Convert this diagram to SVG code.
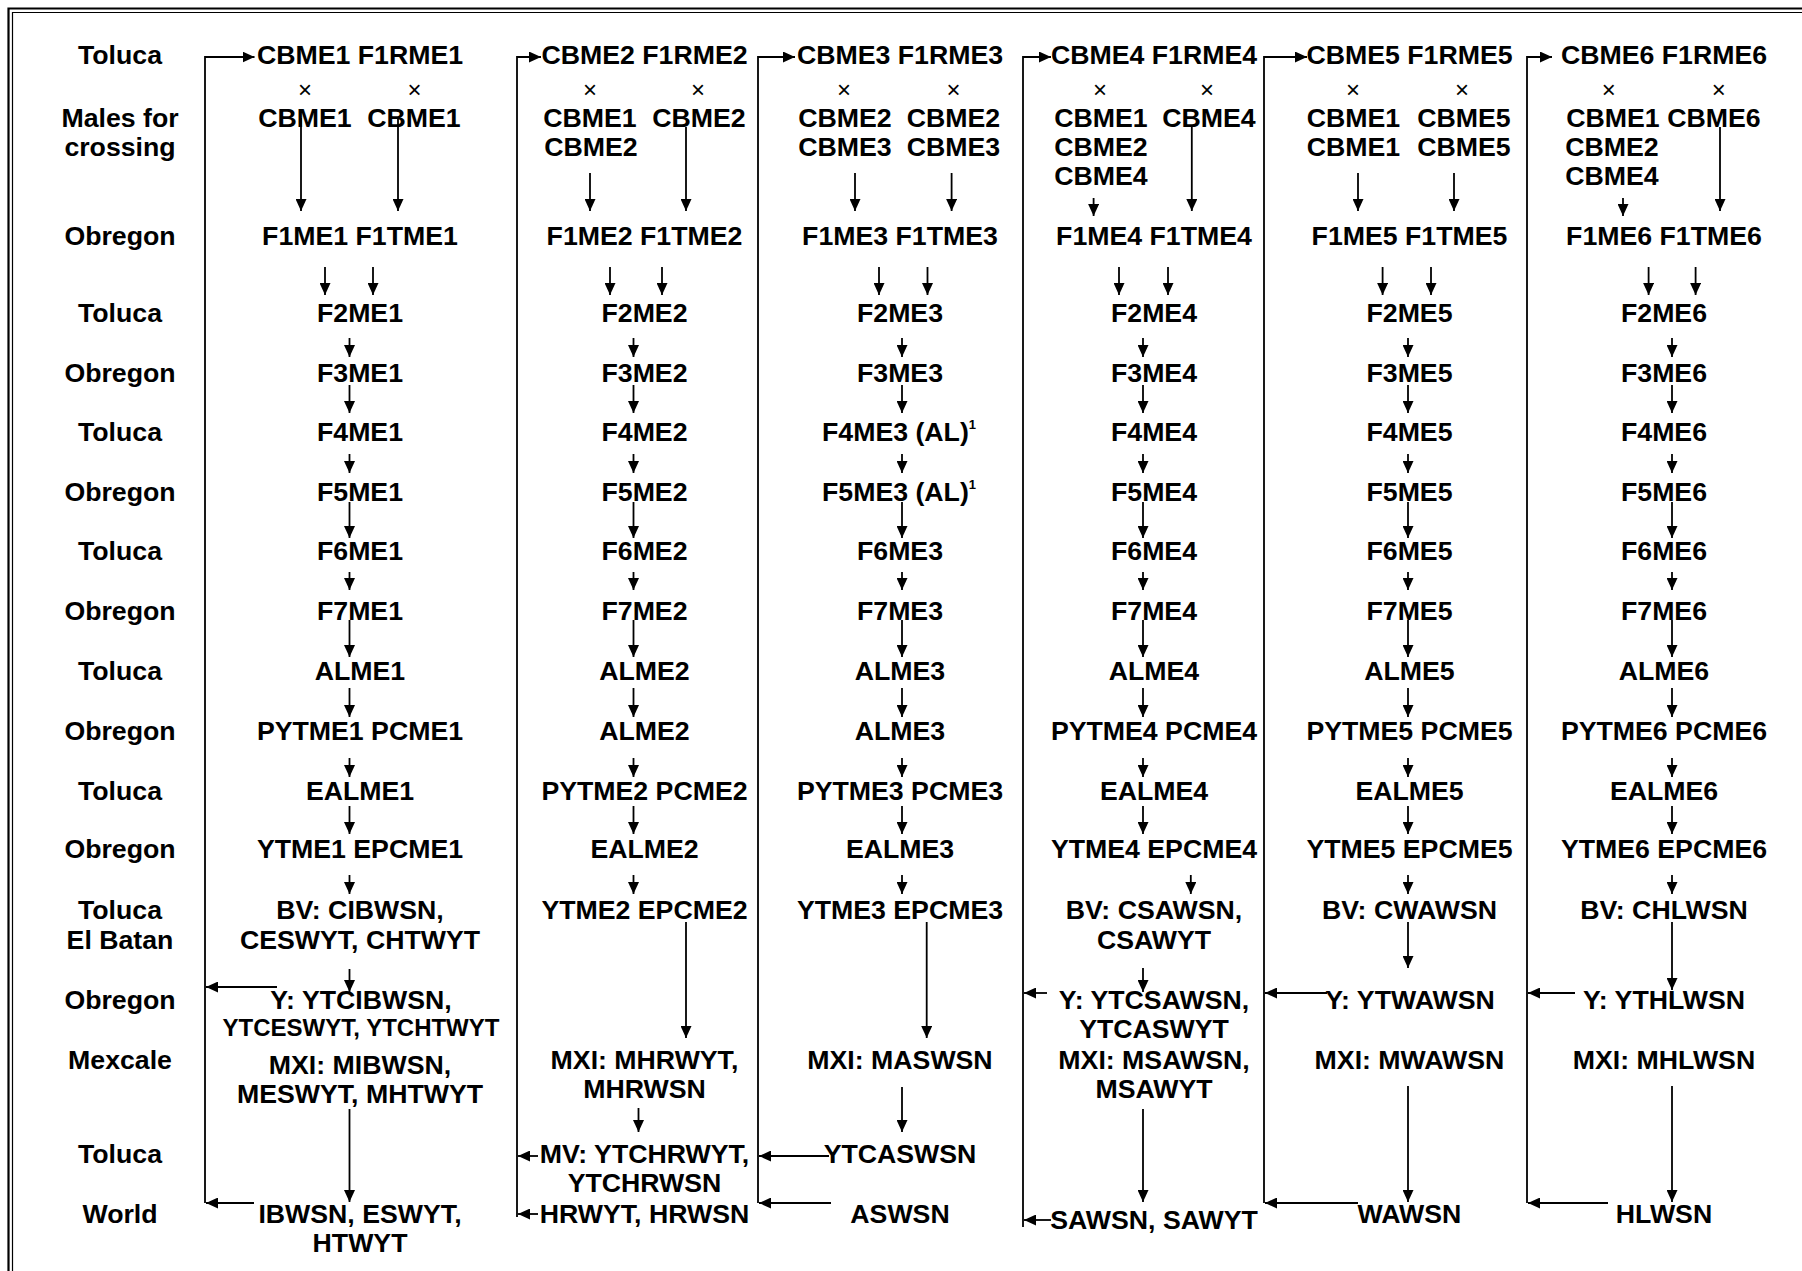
<svg xmlns="http://www.w3.org/2000/svg" width="1802" height="1271" viewBox="0 0 1802 1271">
<style>
text { font-family: "Liberation Sans", Arial, sans-serif; font-weight: bold; font-size: 26.7px; text-anchor: middle; fill: #000; }
text.sm { font-size: 24px; }
text.x { font-weight: normal; font-size: 24px; }
text.st { text-anchor: start; }
tspan.sup { font-size: 13px; }
.a { stroke: #000; stroke-width: 1.8; fill: none; marker-end: url(#ah); }
.frame { stroke: #000; fill: none; }
</style>
<defs>
<marker id="ah" markerUnits="userSpaceOnUse" markerWidth="12" markerHeight="11" refX="12" refY="5.5" orient="auto">
<path d="M0,0 L12,5.5 L0,11 z" fill="#000"/>
</marker>
</defs>
<rect width="1802" height="1271" fill="#fff"/>
<!-- double frame (top and left edges) -->
<path class="frame" stroke-width="2.2" d="M8.5,1275 V8.5 H1806"/>
<path class="frame" stroke-width="1.2" d="M12.5,1275 V12.5 H1806"/>

<!-- row labels -->
<g id="labels">
<text x="120" y="64">Toluca</text>
<text x="120" y="127">Males for</text>
<text x="120" y="156">crossing</text>
<text x="120" y="245">Obregon</text>
<text x="120" y="322">Toluca</text>
<text x="120" y="382">Obregon</text>
<text x="120" y="441">Toluca</text>
<text x="120" y="501">Obregon</text>
<text x="120" y="560">Toluca</text>
<text x="120" y="620">Obregon</text>
<text x="120" y="680">Toluca</text>
<text x="120" y="740">Obregon</text>
<text x="120" y="800">Toluca</text>
<text x="120" y="858">Obregon</text>
<text x="120" y="919">Toluca</text>
<text x="120" y="949">El Batan</text>
<text x="120" y="1009">Obregon</text>
<text x="120" y="1069">Mexcale</text>
<text x="120" y="1163">Toluca</text>
<text x="120" y="1223">World</text>
</g>

<!-- column 1 -->
<g id="c1-parents"><text x="360" y="64">CBME1 F1RME1</text></g>
<g id="c1-males"><text class="x" x="305" y="98">×</text><text class="x" x="414.5" y="98">×</text><text x="305" y="127">CBME1</text><text x="414" y="127">CBME1</text></g>
<g id="c1-f1"><text x="360" y="245">F1ME1 F1TME1</text></g>
<g id="c1-f2"><text x="360" y="322">F2ME1</text></g>
<g id="c1-f3"><text x="360" y="382">F3ME1</text></g>
<g id="c1-f4"><text x="360" y="441">F4ME1</text></g>
<g id="c1-f5"><text x="360" y="501">F5ME1</text></g>
<g id="c1-f6"><text x="360" y="560">F6ME1</text></g>
<g id="c1-f7"><text x="360" y="620">F7ME1</text></g>
<g id="c1-al"><text x="360" y="680">ALME1</text></g>
<g id="c1-py"><text x="360" y="740">PYTME1 PCME1</text></g>
<g id="c1-eal"><text x="360" y="800">EALME1</text></g>
<g id="c1-yt"><text x="360" y="858">YTME1 EPCME1</text></g>
<g id="c1-bv"><text x="360" y="919">BV: CIBWSN,</text><text x="360" y="949">CESWYT, CHTWYT</text></g>
<g id="c1-y"><text x="361" y="1009">Y: YTCIBWSN,</text><text class="sm" x="361" y="1036">YTCESWYT, YTCHTWYT</text></g>
<g id="c1-mxi"><text x="360" y="1074">MXI: MIBWSN,</text><text x="360" y="1103">MESWYT, MHTWYT</text></g>
<g id="c1-world"><text x="360" y="1223">IBWSN, ESWYT,</text><text x="360" y="1252">HTWYT</text></g>

<!-- column 2 -->
<g id="c2-parents"><text x="644.5" y="64">CBME2 F1RME2</text></g>
<g id="c2-males"><text class="x" x="590" y="98">×</text><text class="x" x="698" y="98">×</text><text x="590" y="127">CBME1</text><text x="699" y="127">CBME2</text><text x="591" y="156">CBME2</text></g>
<g id="c2-f1"><text x="644.5" y="245">F1ME2 F1TME2</text></g>
<g id="c2-f2"><text x="644.5" y="322">F2ME2</text></g>
<g id="c2-f3"><text x="644.5" y="382">F3ME2</text></g>
<g id="c2-f4"><text x="644.5" y="441">F4ME2</text></g>
<g id="c2-f5"><text x="644.5" y="501">F5ME2</text></g>
<g id="c2-f6"><text x="644.5" y="560">F6ME2</text></g>
<g id="c2-f7"><text x="644.5" y="620">F7ME2</text></g>
<g id="c2-al"><text x="644.5" y="680">ALME2</text></g>
<g id="c2-al2"><text x="644.5" y="740">ALME2</text></g>
<g id="c2-py"><text x="644.5" y="800">PYTME2 PCME2</text></g>
<g id="c2-eal"><text x="644.5" y="858">EALME2</text></g>
<g id="c2-yt"><text x="644.5" y="919">YTME2 EPCME2</text></g>
<g id="c2-mxi"><text x="644.5" y="1069">MXI: MHRWYT,</text><text x="644.5" y="1098">MHRWSN</text></g>
<g id="c2-mv"><text x="644.5" y="1163">MV: YTCHRWYT,</text><text x="644.5" y="1192">YTCHRWSN</text></g>
<g id="c2-world"><text x="644.5" y="1223">HRWYT, HRWSN</text></g>

<!-- column 3 -->
<g id="c3-parents"><text x="900" y="64">CBME3 F1RME3</text></g>
<g id="c3-males"><text class="x" x="844" y="98">×</text><text class="x" x="953.5" y="98">×</text><text x="845" y="127">CBME2</text><text x="953.5" y="127">CBME2</text><text x="845" y="156">CBME3</text><text x="953.5" y="156">CBME3</text></g>
<g id="c3-f1"><text x="900" y="245">F1ME3 F1TME3</text></g>
<g id="c3-f2"><text x="900" y="322">F2ME3</text></g>
<g id="c3-f3"><text x="900" y="382">F3ME3</text></g>
<g id="c3-f4"><text class="st" x="822" y="441">F4ME3 (AL)<tspan class="sup" dy="-12">1</tspan></text></g>
<g id="c3-f5"><text class="st" x="822" y="501">F5ME3 (AL)<tspan class="sup" dy="-12">1</tspan></text></g>
<g id="c3-f6"><text x="900" y="560">F6ME3</text></g>
<g id="c3-f7"><text x="900" y="620">F7ME3</text></g>
<g id="c3-al"><text x="900" y="680">ALME3</text></g>
<g id="c3-al2"><text x="900" y="740">ALME3</text></g>
<g id="c3-py"><text x="900" y="800">PYTME3 PCME3</text></g>
<g id="c3-eal"><text x="900" y="858">EALME3</text></g>
<g id="c3-yt"><text x="900" y="919">YTME3 EPCME3</text></g>
<g id="c3-mxi"><text x="900" y="1069">MXI: MASWSN</text></g>
<g id="c3-ytc"><text x="900" y="1163">YTCASWSN</text></g>
<g id="c3-world"><text x="900" y="1223">ASWSN</text></g>

<!-- column 4 -->
<g id="c4-parents"><text x="1154" y="64">CBME4 F1RME4</text></g>
<g id="c4-males"><text class="x" x="1100" y="98">×</text><text class="x" x="1207" y="98">×</text><text x="1101" y="127">CBME1</text><text x="1209" y="127">CBME4</text><text x="1101" y="156">CBME2</text><text x="1101" y="185">CBME4</text></g>
<g id="c4-f1"><text x="1154" y="245">F1ME4 F1TME4</text></g>
<g id="c4-f2"><text x="1154" y="322">F2ME4</text></g>
<g id="c4-f3"><text x="1154" y="382">F3ME4</text></g>
<g id="c4-f4"><text x="1154" y="441">F4ME4</text></g>
<g id="c4-f5"><text x="1154" y="501">F5ME4</text></g>
<g id="c4-f6"><text x="1154" y="560">F6ME4</text></g>
<g id="c4-f7"><text x="1154" y="620">F7ME4</text></g>
<g id="c4-al"><text x="1154" y="680">ALME4</text></g>
<g id="c4-py"><text x="1154" y="740">PYTME4 PCME4</text></g>
<g id="c4-eal"><text x="1154" y="800">EALME4</text></g>
<g id="c4-yt"><text x="1154" y="858">YTME4 EPCME4</text></g>
<g id="c4-bv"><text x="1154" y="919">BV: CSAWSN,</text><text x="1154" y="949">CSAWYT</text></g>
<g id="c4-y"><text x="1154" y="1009">Y: YTCSAWSN,</text><text x="1154" y="1038">YTCASWYT</text></g>
<g id="c4-mxi"><text x="1154" y="1069">MXI: MSAWSN,</text><text x="1154" y="1098">MSAWYT</text></g>
<g id="c4-world"><text x="1154" y="1229">SAWSN, SAWYT</text></g>

<!-- column 5 -->
<g id="c5-parents"><text x="1409.5" y="64">CBME5 F1RME5</text></g>
<g id="c5-males"><text class="x" x="1353" y="98">×</text><text class="x" x="1462" y="98">×</text><text x="1353.5" y="127">CBME1</text><text x="1464" y="127">CBME5</text><text x="1353.5" y="156">CBME1</text><text x="1464" y="156">CBME5</text></g>
<g id="c5-f1"><text x="1409.5" y="245">F1ME5 F1TME5</text></g>
<g id="c5-f2"><text x="1409.5" y="322">F2ME5</text></g>
<g id="c5-f3"><text x="1409.5" y="382">F3ME5</text></g>
<g id="c5-f4"><text x="1409.5" y="441">F4ME5</text></g>
<g id="c5-f5"><text x="1409.5" y="501">F5ME5</text></g>
<g id="c5-f6"><text x="1409.5" y="560">F6ME5</text></g>
<g id="c5-f7"><text x="1409.5" y="620">F7ME5</text></g>
<g id="c5-al"><text x="1409.5" y="680">ALME5</text></g>
<g id="c5-py"><text x="1409.5" y="740">PYTME5 PCME5</text></g>
<g id="c5-eal"><text x="1409.5" y="800">EALME5</text></g>
<g id="c5-yt"><text x="1409.5" y="858">YTME5 EPCME5</text></g>
<g id="c5-bv"><text x="1409.5" y="919">BV: CWAWSN</text></g>
<g id="c5-y"><text x="1410" y="1009">Y: YTWAWSN</text></g>
<g id="c5-mxi"><text x="1409.5" y="1069">MXI: MWAWSN</text></g>
<g id="c5-world"><text x="1409.5" y="1223">WAWSN</text></g>

<!-- column 6 -->
<g id="c6-parents"><text x="1664" y="64">CBME6 F1RME6</text></g>
<g id="c6-males"><text class="x" x="1608.7" y="98">×</text><text class="x" x="1718.7" y="98">×</text><text x="1613" y="127">CBME1</text><text x="1714" y="127">CBME6</text><text x="1612" y="156">CBME2</text><text x="1612" y="185">CBME4</text></g>
<g id="c6-f1"><text x="1664" y="245">F1ME6 F1TME6</text></g>
<g id="c6-f2"><text x="1664" y="322">F2ME6</text></g>
<g id="c6-f3"><text x="1664" y="382">F3ME6</text></g>
<g id="c6-f4"><text x="1664" y="441">F4ME6</text></g>
<g id="c6-f5"><text x="1664" y="501">F5ME6</text></g>
<g id="c6-f6"><text x="1664" y="560">F6ME6</text></g>
<g id="c6-f7"><text x="1664" y="620">F7ME6</text></g>
<g id="c6-al"><text x="1664" y="680">ALME6</text></g>
<g id="c6-py"><text x="1664" y="740">PYTME6 PCME6</text></g>
<g id="c6-eal"><text x="1664" y="800">EALME6</text></g>
<g id="c6-yt"><text x="1664" y="858">YTME6 EPCME6</text></g>
<g id="c6-bv"><text x="1664" y="919">BV: CHLWSN</text></g>
<g id="c6-y"><text x="1664" y="1009">Y: YTHLWSN</text></g>
<g id="c6-mxi"><text x="1664" y="1069">MXI: MHLWSN</text></g>
<g id="c6-world"><text x="1664" y="1223">HLWSN</text></g>

<!-- connectors -->
<g id="connectors">
<!-- feedback loops: vertical rail up to the next parent row -->
<path class="a" d="M205,1203 V57 H254.5"/>
<path class="a" d="M517,1217 V57 H541"/>
<path class="a" d="M758,1203 V57 H795"/>
<path class="a" d="M1023,1227 V57 H1051"/>
<path class="a" d="M1264,1203 V57 H1307"/>
<path class="a" d="M1527,1203 V57 H1552"/>

<!-- returns into the rails -->
<path class="a" d="M277,987 H206"/>
<path class="a" d="M254,1203 H206"/>
<path class="a" d="M538,1156 H518"/>
<path class="a" d="M538,1214 H518"/>
<path class="a" d="M829,1156 H759"/>
<path class="a" d="M831,1203 H759"/>
<path class="a" d="M1047,993 H1024"/>
<path class="a" d="M1051,1220 H1024"/>
<path class="a" d="M1327,993 H1265"/>
<path class="a" d="M1358,1203 H1265"/>
<path class="a" d="M1575,993 H1528"/>
<path class="a" d="M1608,1203 H1528"/>

<!-- crosses to F1 -->
<path class="a" d="M301,118 V211"/>
<path class="a" d="M398,118 V211"/>
<path class="a" d="M590,173 V211"/>
<path class="a" d="M686,127 V211"/>
<path class="a" d="M855,173 V211"/>
<path class="a" d="M951.6,173 V211"/>
<path class="a" d="M1093.6,198 V216"/>
<path class="a" d="M1191.8,127 V211"/>
<path class="a" d="M1358,173 V211"/>
<path class="a" d="M1454,173 V211"/>
<path class="a" d="M1623,198 V216"/>
<path class="a" d="M1720,127 V211"/>

<!-- F1 to F2 -->
<path class="a" d="M325,267 V295"/><path class="a" d="M373,267 V295"/>
<path class="a" d="M610,267 V295"/><path class="a" d="M662,267 V295"/>
<path class="a" d="M879,267 V295"/><path class="a" d="M927.5,267 V295"/>
<path class="a" d="M1119,267 V295"/><path class="a" d="M1168,267 V295"/>
<path class="a" d="M1382.6,267 V295"/><path class="a" d="M1431,267 V295"/>
<path class="a" d="M1648.6,267 V295"/><path class="a" d="M1695.6,267 V295"/>

<!-- generation spines -->
<path class="a" d="M349.5,338 V357"/><path class="a" d="M349.5,385 V413"/><path class="a" d="M349.5,454 V473"/><path class="a" d="M349.5,502 V538"/><path class="a" d="M349.5,572 V590"/><path class="a" d="M349.5,620 V657"/><path class="a" d="M349.5,688 V717"/><path class="a" d="M349.5,758 V777"/><path class="a" d="M349.5,806 V834"/><path class="a" d="M349.5,875 V894"/><path class="a" d="M349.5,969 V992"/><path class="a" d="M349.5,1109 V1202"/>
<path class="a" d="M633.5,338 V357"/><path class="a" d="M633.5,385 V413"/><path class="a" d="M633.5,454 V473"/><path class="a" d="M633.5,502 V538"/><path class="a" d="M633.5,572 V590"/><path class="a" d="M633.5,620 V657"/><path class="a" d="M633.5,688 V717"/><path class="a" d="M633.5,758 V777"/><path class="a" d="M633.5,806 V834"/><path class="a" d="M633.5,875 V894"/><path class="a" d="M686,922 V1038"/><path class="a" d="M638.5,1108 V1132"/>
<path class="a" d="M902,338 V357"/><path class="a" d="M902,385 V413"/><path class="a" d="M902,454 V473"/><path class="a" d="M902,502 V538"/><path class="a" d="M902,572 V590"/><path class="a" d="M902,620 V657"/><path class="a" d="M902,688 V717"/><path class="a" d="M902,758 V777"/><path class="a" d="M902,806 V834"/><path class="a" d="M902,875 V894"/><path class="a" d="M926.7,922 V1038"/><path class="a" d="M902,1087 V1132"/>
<path class="a" d="M1143,338 V357"/><path class="a" d="M1143,385 V413"/><path class="a" d="M1143,454 V473"/><path class="a" d="M1143,502 V538"/><path class="a" d="M1143,572 V590"/><path class="a" d="M1143,620 V657"/><path class="a" d="M1143,688 V717"/><path class="a" d="M1143,758 V777"/><path class="a" d="M1143,806 V834"/><path class="a" d="M1190.8,875 V894"/><path class="a" d="M1143,968 V992"/><path class="a" d="M1143,1109 V1202"/>
<path class="a" d="M1408,338 V357"/><path class="a" d="M1408,385 V413"/><path class="a" d="M1408,454 V473"/><path class="a" d="M1408,502 V538"/><path class="a" d="M1408,572 V590"/><path class="a" d="M1408,620 V657"/><path class="a" d="M1408,688 V717"/><path class="a" d="M1408,758 V777"/><path class="a" d="M1408,806 V834"/><path class="a" d="M1408,875 V894"/><path class="a" d="M1408,922 V968"/><path class="a" d="M1408,1086 V1202"/>
<path class="a" d="M1672,338 V357"/><path class="a" d="M1672,385 V413"/><path class="a" d="M1672,454 V473"/><path class="a" d="M1672,502 V538"/><path class="a" d="M1672,572 V590"/><path class="a" d="M1672,620 V657"/><path class="a" d="M1672,688 V717"/><path class="a" d="M1672,758 V777"/><path class="a" d="M1672,806 V834"/><path class="a" d="M1672,875 V894"/><path class="a" d="M1672,922 V990"/><path class="a" d="M1672,1086 V1202"/>
</g>
</svg>
